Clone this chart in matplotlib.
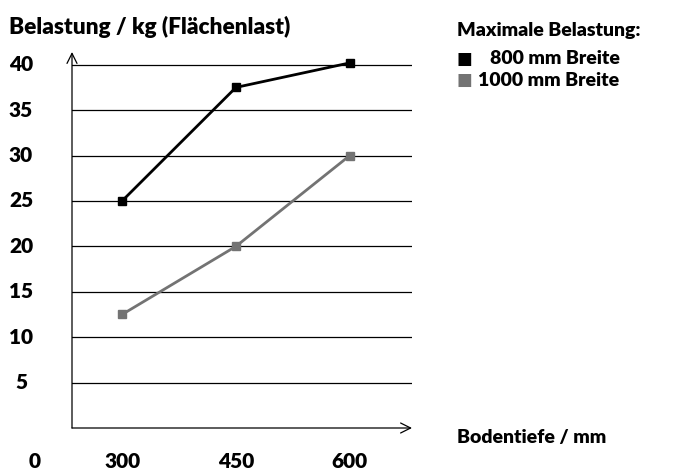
import matplotlib
matplotlib.use("Agg")
import matplotlib.pyplot as plt
import matplotlib.transforms as mtransforms

# data
depth = [300, 450, 600]
load_800 = [25, 37.5, 40.2]
load_1000 = [12.5, 20, 30]
y_ticks = [5, 10, 15, 20, 25, 30, 35, 40]

plt.rcParams['font.family'] = ['Lato', 'DejaVu Sans']
WT = 'heavy'
FS = 14
GRAY = '#737373'

W, H = 677, 469
fig = plt.figure(figsize=(W / 100, H / 100), dpi=100)
ax = fig.add_axes([72 / W, 1 - 428 / H, (412 - 72) / W, (428 - 52) / H])
ax.set_xlim(234, 682)
ax.set_ylim(0, 41.4)
for s in ax.spines.values():
    s.set_visible(False)
ax.set_yticks([])
ax.set_xticks([])

# horizontal grid lines
for v in y_ticks:
    ax.axhline(v, color='black', lw=0.9)

# axes with open arrow heads
ax.annotate('', xy=(0, 1), xytext=(0, 0), xycoords='axes fraction',
            arrowprops=dict(arrowstyle='->', lw=0.9, color='black',
                            mutation_scale=18, shrinkA=0, shrinkB=0))
ax.annotate('', xy=(1, 0), xytext=(0, 0), xycoords='axes fraction',
            arrowprops=dict(arrowstyle='->', lw=0.9, color='black',
                            mutation_scale=18, shrinkA=0, shrinkB=0))

ax.plot(depth, load_800, color='black', lw=2, marker='s', ms=6, clip_on=False)
ax.plot(depth, load_1000, color=GRAY, lw=2, marker='s', ms=6, clip_on=False)

# tick labels placed like the reference
ytrans = mtransforms.blended_transform_factory(fig.transFigure, ax.transData)
for v in y_ticks:
    ax.text(21 / W, v, str(v), transform=ytrans, ha='center', va='center',
            fontsize=FS + 1, fontweight=WT)
xtrans = mtransforms.blended_transform_factory(ax.transData, fig.transFigure)
for d in depth:
    ax.text(d, 1 - 461 / H, str(d), transform=xtrans, ha='center', va='center',
            fontsize=FS + 1, fontweight=WT)
fig.text(35 / W, 1 - 461 / H, '0', ha='center', va='center', fontsize=FS + 1, fontweight=WT)

fig.text(9 / W, 1 - 27 / H, 'Belastung / kg (Flächenlast)', ha='left', va='center',
         fontsize=FS + 2.3, fontweight=WT)
fig.text(457 / W, 1 - 437 / H, 'Bodentiefe / mm', ha='left', va='center',
         fontsize=FS, fontweight=WT)

# legend block
fig.text(457 / W, 1 - 30 / H, 'Maximale Belastung:', ha='left', va='center',
         fontsize=FS, fontweight=WT)
fig.text(457 / W, 1 - 59 / H, '\u25a0', ha='left', va='center',
         fontsize=FS - 2, color='black')
fig.text(490 / W, 1 - 59 / H, '800 mm Breite', ha='left', va='center',
         fontsize=FS, fontweight=WT)
fig.text(457 / W, 1 - 80 / H, '\u25a0', ha='left', va='center',
         fontsize=FS - 2, color=GRAY)
fig.text(478 / W, 1 - 80 / H, '1000 mm Breite', ha='left', va='center',
         fontsize=FS, fontweight=WT)

fig.savefig('out.png', dpi=100)
